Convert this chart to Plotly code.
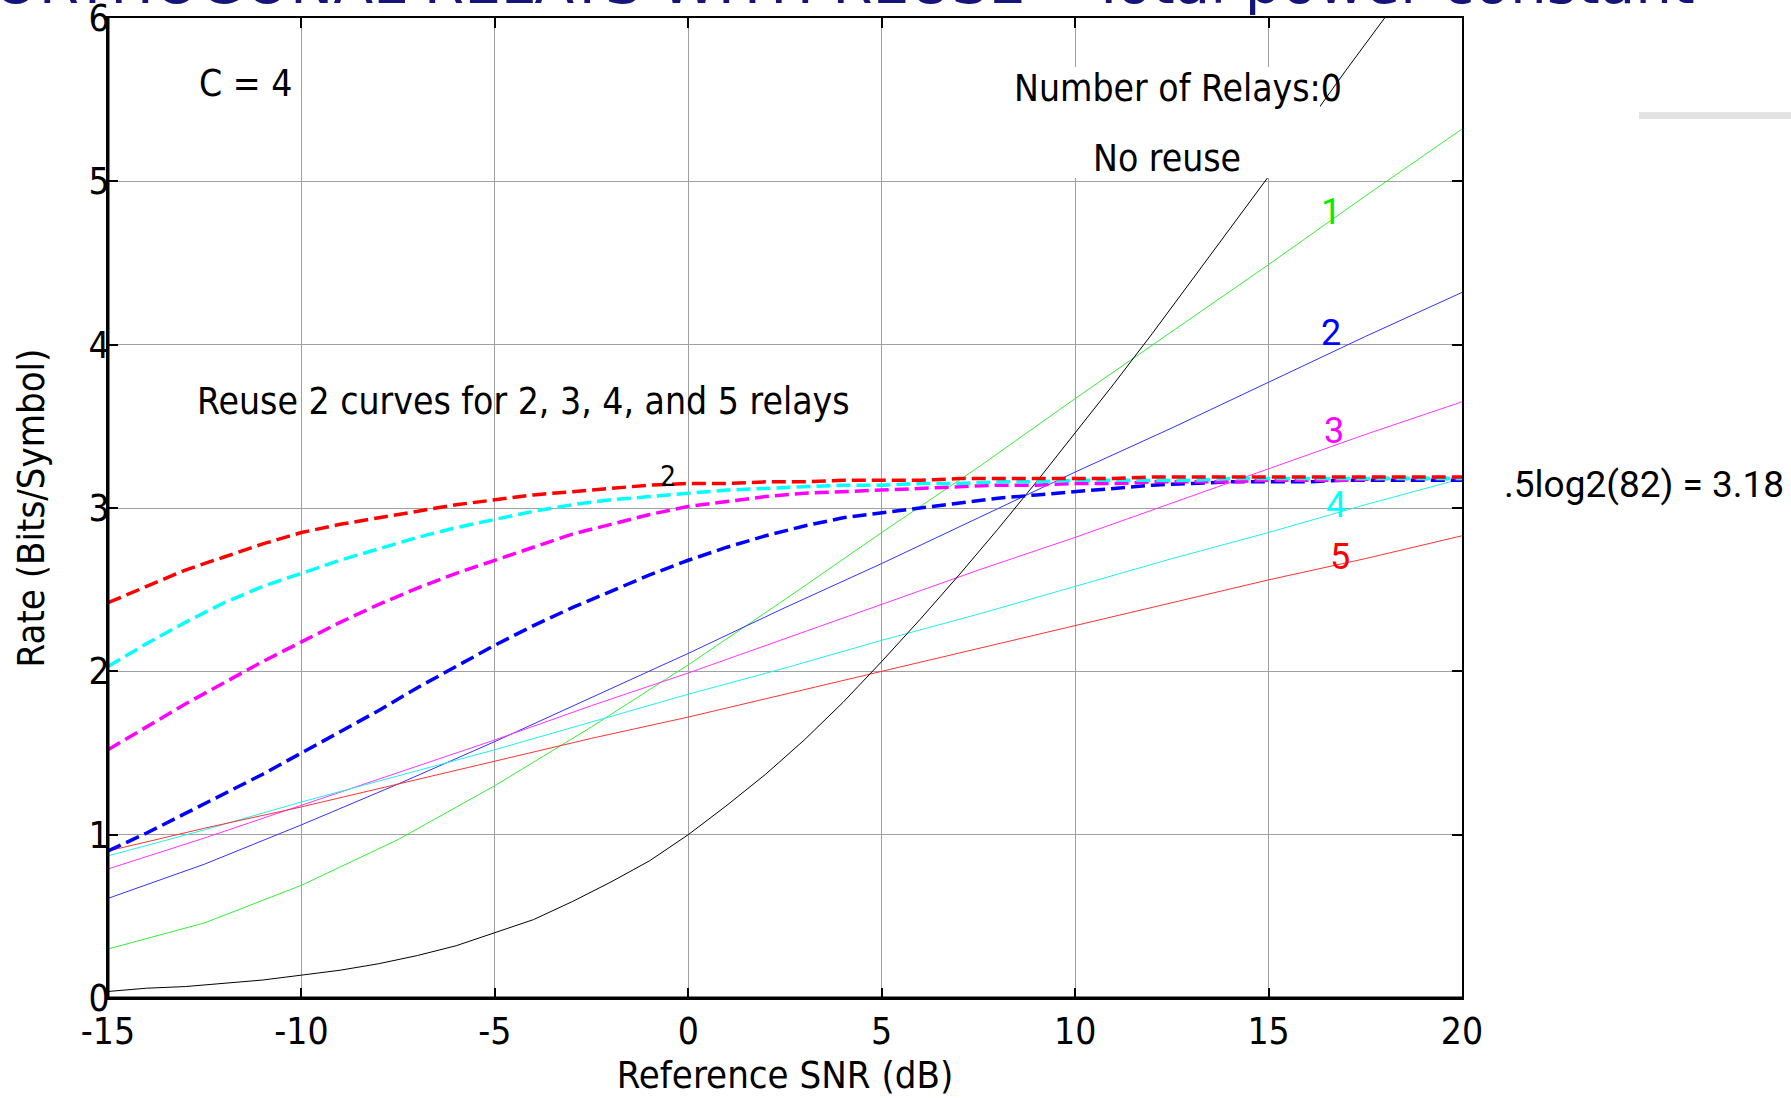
import plotly.graph_objects as go

# ---------------- data ----------------
snr_thin = [-15, -12.5, -10, -7.5, -5, -2.5, 0, 2.5, 5, 7.5, 10, 12.5, 15, 17.5, 20]
relay1 = [0.30, 0.46, 0.69, 0.97, 1.30, 1.66, 2.04, 2.44, 2.85, 3.25, 3.67, 4.08, 4.49, 4.91, 5.32]
relay2 = [0.61, 0.82, 1.06, 1.31, 1.57, 1.84, 2.11, 2.39, 2.66, 2.94, 3.22, 3.49, 3.77, 4.05, 4.32]
relay3 = [0.79, 0.98, 1.18, 1.38, 1.58, 1.79, 1.99, 2.20, 2.41, 2.62, 2.82, 3.03, 3.24, 3.45, 3.65]
relay4 = [0.87, 1.03, 1.20, 1.36, 1.52, 1.69, 1.86, 2.02, 2.19, 2.35, 2.52, 2.69, 2.85, 3.02, 3.18]
relay5 = [0.90, 1.04, 1.17, 1.31, 1.45, 1.59, 1.72, 1.86, 2.00, 2.14, 2.28, 2.42, 2.56, 2.69, 2.83]

snr_direct = [-15, -14, -13, -12, -11, -10, -9, -8, -7, -6, -5, -4, -3, -2, -1, 0,
              1, 2, 3, 4, 5, 6, 7, 8, 9, 10, 11, 12, 13, 14, 15, 16, 17, 18]
relay0 = [0.04, 0.06, 0.07, 0.09, 0.11, 0.14, 0.17, 0.21, 0.26, 0.32, 0.40, 0.48, 0.59, 0.71,
          0.84, 1.00, 1.18, 1.37, 1.58, 1.81, 2.06, 2.32, 2.59, 2.87, 3.16, 3.46, 3.76, 4.07,
          4.39, 4.71, 5.03, 5.35, 5.68, 6.00]

snr_reuse = [-15, -14, -13, -12, -11, -10, -9, -8, -7, -6, -5, -4, -3, -2, -1, 0,
             1, 2, 3, 4, 5, 6, 7, 8, 9, 10, 11, 12, 13, 14, 15, 16, 17, 18, 19, 20]
reuse2 = [0.90, 1.01, 1.13, 1.25, 1.37, 1.50, 1.63, 1.76, 1.90, 2.03, 2.16, 2.28, 2.39, 2.49,
          2.59, 2.68, 2.76, 2.83, 2.89, 2.94, 2.97, 3.00, 3.03, 3.06, 3.08, 3.10, 3.12, 3.14,
          3.15, 3.16, 3.16, 3.16, 3.17, 3.17, 3.17, 3.17]
reuse3 = [1.52, 1.66, 1.80, 1.93, 2.06, 2.18, 2.30, 2.41, 2.51, 2.60, 2.68, 2.76, 2.84, 2.90,
          2.96, 3.01, 3.04, 3.07, 3.09, 3.10, 3.11, 3.12, 3.13, 3.14, 3.14, 3.15, 3.15, 3.16,
          3.16, 3.16, 3.17, 3.17, 3.17, 3.18, 3.18, 3.18]
reuse4 = [2.03, 2.17, 2.30, 2.42, 2.52, 2.60, 2.68, 2.75, 2.82, 2.88, 2.93, 2.98, 3.02, 3.05,
          3.07, 3.09, 3.11, 3.12, 3.13, 3.14, 3.14, 3.15, 3.15, 3.16, 3.16, 3.17, 3.17, 3.17,
          3.17, 3.18, 3.18, 3.18, 3.18, 3.18, 3.18, 3.18]
reuse5 = [2.42, 2.52, 2.62, 2.70, 2.78, 2.85, 2.90, 2.94, 2.98, 3.02, 3.05, 3.08, 3.10, 3.12,
          3.14, 3.15, 3.15, 3.16, 3.16, 3.17, 3.17, 3.17, 3.18, 3.18, 3.18, 3.18, 3.18, 3.19,
          3.19, 3.19, 3.19, 3.19, 3.19, 3.19, 3.19, 3.19]

x_ticks = [-15, -10, -5, 0, 5, 10, 15, 20]
x_tick_labels = ["-15", "-10", "-5", "0", "5", "10", "15", "20"]
y_ticks = [0, 1, 2, 3, 4, 5, 6]
y_tick_labels = ["0", "1", "2", "3", "4", "5", "6"]

# ---------------- figure ----------------
W, H = 1791, 1098
L, R, T, B = 108, 329, 18, 100
FONT = "DejaVu Sans Condensed, DejaVu Sans, sans-serif"
NUMFONT = "Roboto, Liberation Sans, sans-serif"

fig = go.Figure()

thin = [(relay1, "#33ee33"), (relay2, "#3333ff"), (relay3, "#ff33ff"),
        (relay4, "#22eeee"), (relay5, "#ff3333")]
for ys, c in thin:
    fig.add_trace(go.Scatter(x=snr_thin, y=ys, mode="lines",
                             line=dict(color=c, width=1), showlegend=False))

fig.add_trace(go.Scatter(x=snr_direct, y=relay0, mode="lines",
                         line=dict(color="black", width=1), showlegend=False))

dashed = [(reuse2, "#0000ff"), (reuse3, "#ff00ff"), (reuse4, "#00ffff"), (reuse5, "#ff0000")]
for ys, c in dashed:
    fig.add_trace(go.Scatter(x=snr_reuse, y=ys, mode="lines",
                             line=dict(color=c, width=3.5, dash="14px,6px"),
                             showlegend=False))

def px2paper_x(px):
    return (px - L) / (W - L - R)

def px2paper_y(py):
    return (H - B - py) / (H - T - B)

shapes = [
    # white box behind the "Number of Relays / No reuse" text
    dict(type="rect", xref="paper", yref="paper",
         x0=px2paper_x(1000), x1=px2paper_x(1320), y0=px2paper_y(178), y1=px2paper_y(67),
         fillcolor="white", line=dict(width=0), layer="above"),
    # thick left and bottom axis lines
    dict(type="line", xref="paper", yref="paper", x0=0, x1=0, y0=0, y1=1,
         line=dict(color="black", width=3), layer="above"),
    dict(type="line", xref="paper", yref="paper", x0=0, x1=1, y0=0, y1=0,
         line=dict(color="black", width=3), layer="above"),
    # grey decorative bar top right
    dict(type="rect", xref="paper", yref="paper",
         x0=px2paper_x(1639), x1=px2paper_x(1791), y0=px2paper_y(119), y1=px2paper_y(112),
         fillcolor="#e3e3e3", line=dict(width=0), layer="above"),
]

ann = []
def txt(x, y, s, size=37, color="black", family=FONT, **kw):
    d = dict(x=x, y=y, text=s, showarrow=False, xanchor="center", yanchor="middle",
             font=dict(size=size, color=color, family=family))
    d.update(kw)
    ann.append(d)

txt(-11.44, 5.60, "C = 4")
txt(12.65, 5.57, "Number of Relays:0")
txt(12.38, 5.14, "No reuse")
txt(-4.27, 3.655, "Reuse 2 curves for 2, 3, 4, and 5 relays")
txt(-0.52, 3.19, "2", size=28)
txt(16.61, 4.81, "1", size=36, color="#00ee00", family=NUMFONT)
txt(16.61, 4.07, "2", size=36, color="#0000ff", family=NUMFONT)
txt(16.69, 3.47, "3", size=36, color="#ff00ff", family=NUMFONT)
txt(16.75, 3.02, "4", size=36, color="#00ffff", family=NUMFONT)
txt(16.84, 2.70, "5", size=36, color="#ff0000", family=NUMFONT)
txt(px2paper_x(1644), px2paper_y(484), ".5log2(82) = 3.18", size=37, family=NUMFONT,
    xref="paper", yref="paper")
# slide title (cut off at the top of the picture)
txt(px2paper_x(1697), px2paper_y(19), "ORTHOGONAL RELAYS WITH REUSE \u2013 Total power constant",
    size=58, color="#14147a", family="DejaVu Sans, sans-serif",
    xref="paper", yref="paper", xanchor="right", yanchor="bottom")

axis_common = dict(showgrid=True, gridcolor="#a0a0a0", gridwidth=1,
                   showline=True, linecolor="black", linewidth=2, mirror="ticks",
                   ticks="inside", ticklen=10, tickcolor="black", tickwidth=1.5,
                   zeroline=False, ticklabeloverflow="allow", automargin=False,
                   tickfont=dict(size=37, family=FONT, color="black"))

fig.update_layout(
    width=W, height=H,
    margin=dict(l=L, r=R, t=T, b=B, pad=0, autoexpand=False),
    paper_bgcolor="white", plot_bgcolor="white",
    font=dict(family=FONT, color="black"),
    hovermode=False,
    xaxis=dict(range=[-15, 20], tickvals=x_ticks, ticktext=x_tick_labels,
               title=dict(text="Reference SNR (dB)",
                          font=dict(size=38, family=FONT, color="black"), standoff=8),
               ticklabelstandoff=0, **axis_common),
    yaxis=dict(range=[0, 6], tickvals=y_ticks, ticktext=y_tick_labels,
               title=dict(text="Rate (Bits/Symbol)",
                          font=dict(size=38, family=FONT, color="black"), standoff=32),
               ticklabelstandoff=-11, **axis_common),
    shapes=shapes, annotations=ann,
)

fig.write_html("out.html")
